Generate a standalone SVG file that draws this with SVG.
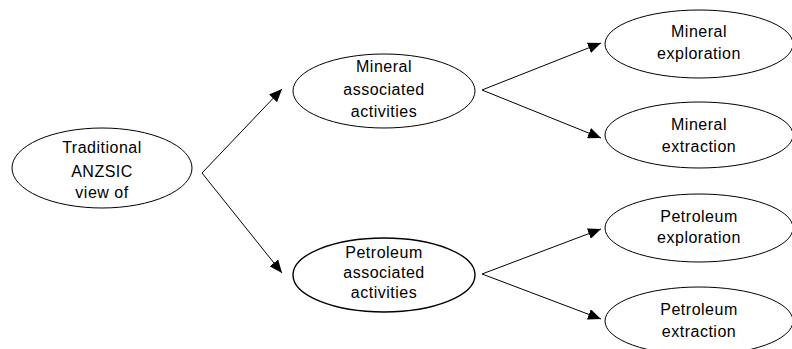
<svg xmlns="http://www.w3.org/2000/svg" width="792" height="349" viewBox="0 0 792 349">
<style>
.n ellipse{fill:#fff;stroke:#000;stroke-width:1}
.n.b ellipse{stroke-width:1.4}
text{font-family:"Liberation Sans",Arial,sans-serif;font-size:16px;letter-spacing:0.5px;fill:#000;text-anchor:middle}
.c line{stroke:#000;stroke-width:1}
</style>
<defs>
<marker id="ah" markerWidth="13" markerHeight="11" refX="13" refY="5.5" orient="auto" markerUnits="userSpaceOnUse">
<path d="M0,0 L13,5.5 L0,11 Z" fill="#000"/>
</marker>
</defs>
<rect width="792" height="349" fill="#fff"/>
<g id="connectors" class="c">
<line x1="202" y1="173" x2="282" y2="89" marker-end="url(#ah)"/>
<line x1="202" y1="173" x2="282" y2="273" marker-end="url(#ah)"/>
<line x1="482" y1="90" x2="601" y2="43" marker-end="url(#ah)"/>
<line x1="482" y1="90" x2="601" y2="138" marker-end="url(#ah)"/>
<line x1="482" y1="274" x2="601" y2="229" marker-end="url(#ah)"/>
<line x1="482" y1="274" x2="601" y2="319" marker-end="url(#ah)"/>
</g>
<g id="n-anzsic" class="n">
<ellipse cx="102" cy="168" rx="90" ry="40"/>
<text x="102" y="153">Traditional</text>
<text x="102" y="177">ANZSIC</text>
<text x="102" y="198">view of</text>
</g>
<g id="n-mineral-assoc" class="n">
<ellipse cx="384" cy="91" rx="91" ry="37"/>
<text x="384" y="72">Mineral</text>
<text x="384" y="95">associated</text>
<text x="384" y="117">activities</text>
</g>
<g id="n-petroleum-assoc" class="n b">
<ellipse cx="384" cy="275" rx="91" ry="37"/>
<text x="384" y="258">Petroleum</text>
<text x="384" y="278">associated</text>
<text x="384" y="298">activities</text>
</g>
<g id="n-mineral-expl" class="n">
<ellipse cx="699" cy="44" rx="94" ry="34"/>
<text x="699" y="37">Mineral</text>
<text x="699" y="59">exploration</text>
</g>
<g id="n-mineral-extr" class="n">
<ellipse cx="699" cy="135" rx="94" ry="33"/>
<text x="699" y="130">Mineral</text>
<text x="699" y="152">extraction</text>
</g>
<g id="n-petroleum-expl" class="n">
<ellipse cx="699" cy="228" rx="94" ry="34"/>
<text x="699" y="222">Petroleum</text>
<text x="699" y="243">exploration</text>
</g>
<g id="n-petroleum-extr" class="n">
<ellipse cx="699" cy="321" rx="94" ry="34"/>
<text x="699" y="315">Petroleum</text>
<text x="699" y="337">extraction</text>
</g>
</svg>
